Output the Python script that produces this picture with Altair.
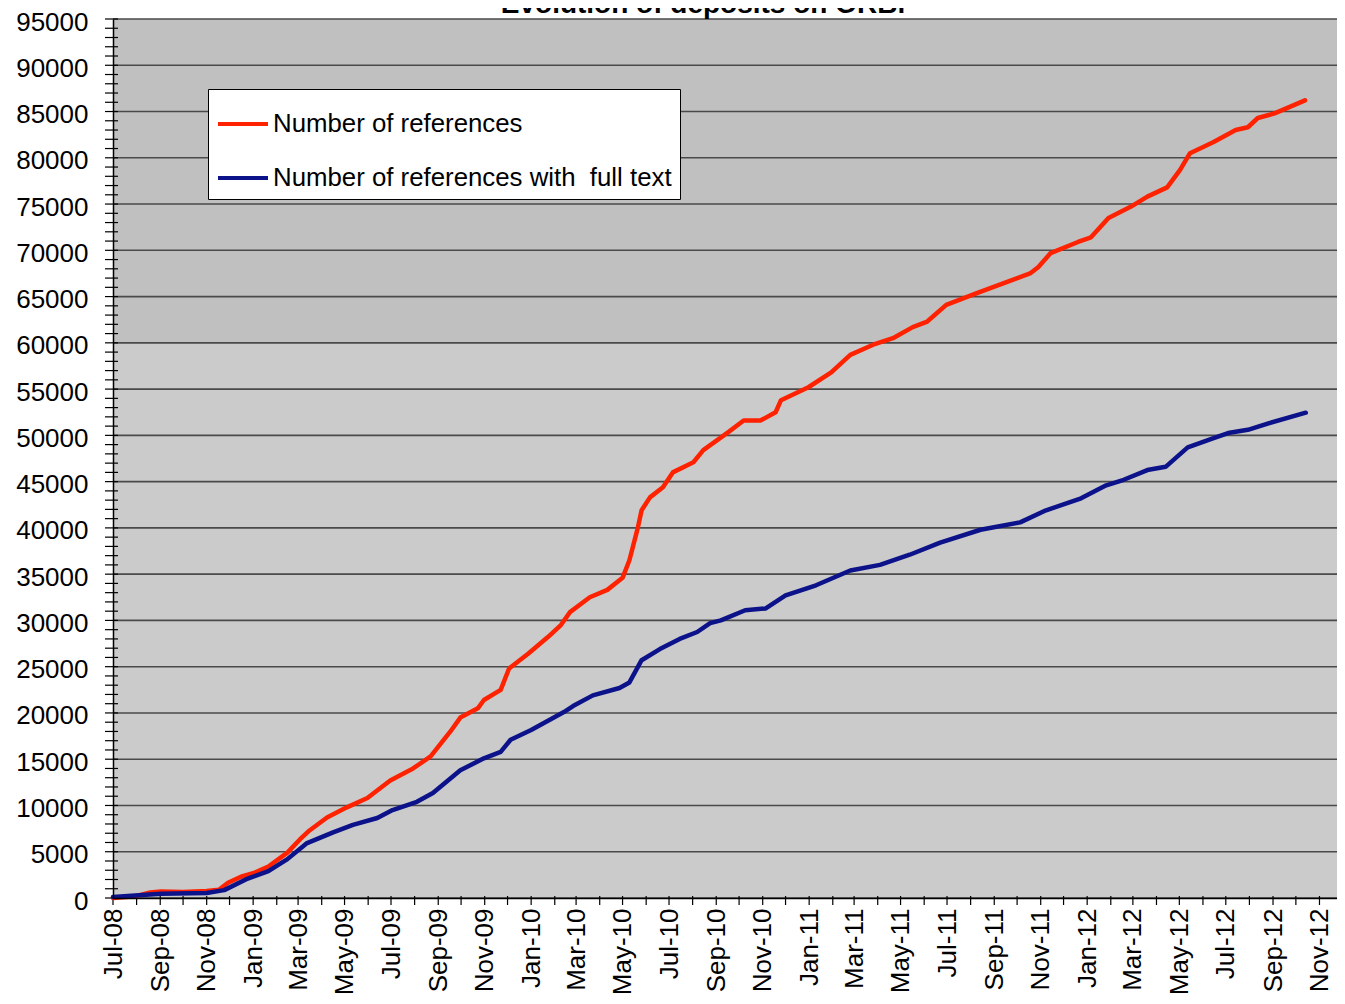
import altair as alt
import pandas as pd

TITLE = "Evolution of deposits on ORBi"
SERIES = ["Number of references", "Number of references with\u00a0 full text"]
COLORS = ["#ff2200", "#0c128a"]

# Number of references (red)
ref_dates = [
    "2008-07-01", "2008-07-31", "2008-08-19", "2008-09-02", "2008-10-01", "2008-11-01",
    "2008-11-17", "2008-11-29", "2008-12-16", "2009-01-02", "2009-01-21", "2009-02-15",
    "2009-03-03", "2009-03-16", "2009-04-08", "2009-05-04", "2009-05-31", "2009-06-30",
    "2009-07-30", "2009-08-22", "2009-09-17", "2009-09-30", "2009-10-23", "2009-10-31",
    "2009-11-22", "2009-12-03", "2009-12-28", "2010-01-23", "2010-02-09", "2010-02-21",
    "2010-03-19", "2010-04-11", "2010-05-01", "2010-05-10", "2010-05-21", "2010-05-26",
    "2010-06-06", "2010-06-23", "2010-07-06", "2010-08-02", "2010-08-15", "2010-09-16",
    "2010-10-07", "2010-10-29", "2010-11-18", "2010-11-25", "2010-12-31", "2011-01-30",
    "2011-02-24", "2011-03-26", "2011-04-21", "2011-05-17", "2011-06-05", "2011-06-30",
    "2011-08-10", "2011-09-18", "2011-10-18", "2011-10-29", "2011-11-14", "2011-12-20",
    "2012-01-06", "2012-01-29", "2012-02-27", "2012-03-20", "2012-04-15", "2012-05-02",
    "2012-05-15", "2012-06-02", "2012-06-15", "2012-07-14", "2012-07-30", "2012-08-12",
    "2012-09-03", "2012-10-13",
]
ref_values = [
    0, 200, 600, 700, 650, 750,
    900, 1650, 2300, 2700, 3400, 4900,
    6300, 7300, 8700, 9800, 10800, 12700,
    14000, 15300, 18000, 19500, 20500, 21400,
    22500, 24800, 26400, 28200, 29500, 30900,
    32500, 33300, 34600, 36500, 40000, 41900,
    43300, 44400, 46000, 47100, 48400, 50300,
    51600, 51600, 52500, 53800, 55200, 56800,
    58700, 59800, 60500, 61700, 62300, 64100,
    65400, 66600, 67500, 68200, 69700, 70900,
    71400, 73500, 74700, 75800, 76800, 78700,
    80500, 81200, 81700, 83000, 83300, 84300,
    84800, 86200,
]

# Number of references with full text (blue)
ft_dates = [
    "2008-07-01", "2008-09-02", "2008-11-01", "2008-11-24", "2008-12-25", "2009-01-21",
    "2009-02-15", "2009-03-12", "2009-04-16", "2009-05-12", "2009-06-13", "2009-07-03",
    "2009-08-04", "2009-08-25", "2009-09-30", "2009-10-31", "2009-11-22", "2009-12-05",
    "2010-01-01", "2010-02-13", "2010-02-25", "2010-03-23", "2010-04-27", "2010-05-10",
    "2010-05-26", "2010-06-19", "2010-07-15", "2010-08-07", "2010-08-24", "2010-09-07",
    "2010-10-09", "2010-11-05", "2010-12-01", "2011-01-10", "2011-02-24", "2011-04-04",
    "2011-05-13", "2011-06-22", "2011-08-14", "2011-10-05", "2011-11-08", "2011-12-24",
    "2012-01-26", "2012-02-18", "2012-03-20", "2012-04-13", "2012-05-12", "2012-06-15",
    "2012-07-04", "2012-07-30", "2012-08-26", "2012-10-14",
]
ft_values = [
    100, 450, 550, 850, 2100, 2900,
    4200, 5900, 7100, 7900, 8650, 9500,
    10400, 11350, 13800, 15100, 15800, 17100,
    18150, 20100, 20750, 21900, 22700, 23300,
    25700, 26900, 28000, 28750, 29700, 30000,
    31100, 31300, 32700, 33800, 35400, 36000,
    37100, 38400, 39800, 40600, 41900, 43200,
    44600, 45200, 46250, 46600, 48700, 49700,
    50250, 50600, 51300, 52450,
]

y_major = list(range(0, 95001, 5000))
y_minor = list(range(0, 95001, 1000))
x_month_ticks = [d.strftime("%Y-%m-%d") for d in pd.date_range("2008-07-01", "2012-11-01", freq="MS")]
x_label_months = x_month_ticks[::2]
band_lo = [0, 60000]
band_hi = [60000, 95000]
band_fill = ["#cbcbcb", "#c0c0c0"]

W, H = 1224, 879
FONT = "Liberation Sans"

x_scale = alt.Scale(
    type="utc",
    domain=[alt.DateTime(year=2008, month=7, date=1, utc=True),
            alt.DateTime(year=2012, month=11, date=24, utc=True)],
)
y_scale = alt.Scale(domain=[0, 95000], nice=False, zero=True)

label_values = [
    alt.DateTime(year=int(s[:4]), month=int(s[5:7]), date=1, utc=True) for s in x_label_months
]

x_axis = alt.Axis(values=label_values, labelExpr="utcFormat(datum.value, '%b-%y')", labelAngle=270,
                  labelFontSize=26, labelFont=FONT, labelColor="black", labelPadding=10,
                  ticks=False, grid=False, domainColor="black", domainWidth=1.5,
                  labelOverlap=False, zindex=1)
y_axis = alt.Axis(values=y_major, format="d", labelFontSize=26, labelFont=FONT,
                  labelColor="black", labelPadding=25, labelOffset=3, ticks=False, grid=False,
                  domainColor="black", domainWidth=1.5, labelOverlap=False, zindex=1)

lines_df = pd.DataFrame({
    "date": ref_dates + ft_dates,
    "value": ref_values + ft_values,
    "series": [SERIES[0]] * len(ref_dates) + [SERIES[1]] * len(ft_dates),
})

bands = alt.Chart(pd.DataFrame({"lo": band_lo, "hi": band_hi, "fill": band_fill})).mark_rect().encode(
    y=alt.Y("lo:Q", scale=y_scale, axis=y_axis, title=None),
    y2="hi:Q",
    x=alt.value(0),
    x2=alt.value(W),
    fill=alt.Fill("fill:N", scale=None),
)

grid = alt.Chart(pd.DataFrame({"v": y_major})).mark_rule(color="#4a4a4a", strokeWidth=1.6).encode(
    y=alt.Y("v:Q", scale=y_scale, axis=y_axis, title=None),
    x=alt.value(0),
    x2=alt.value(W),
)

yticks = alt.Chart(pd.DataFrame({"v": y_minor})).mark_rule(color="black", strokeWidth=1.2).encode(
    y=alt.Y("v:Q", scale=y_scale, axis=y_axis, title=None),
    x=alt.value(-8),
    x2=alt.value(5),
)

xticks = alt.Chart(pd.DataFrame({"d": x_month_ticks})).mark_rule(color="black", strokeWidth=1.2).encode(
    x=alt.X("d:T", scale=x_scale, axis=x_axis, title=None),
    y=alt.value(H - 2),
    y2=alt.value(H + 7),
)

lines = alt.Chart(lines_df).mark_line(strokeWidth=4.5, strokeJoin="round", strokeCap="round").encode(
    x=alt.X("date:T", scale=x_scale, axis=x_axis, title=None),
    y=alt.Y("value:Q", scale=y_scale, axis=y_axis, title=None),
    color=alt.Color("series:N", title=None,
                    scale=alt.Scale(domain=SERIES, range=COLORS),
                    legend=alt.Legend(orient="none", legendX=95, legendY=70, direction="vertical",
                                      fillColor="white", strokeColor="black", padding=8,
                                      symbolType="stroke", symbolSize=2500, symbolStrokeWidth=4,
                                      labelFontSize=25.8, labelFont=FONT, labelColor="black",
                                      labelOffset=3, labelLimit=600, rowPadding=14)),
)

title = alt.Chart(pd.DataFrame({"t": [TITLE]})).mark_text(
    font=FONT, fontSize=28, fontWeight="bold", align="center", baseline="alphabetic", color="black"
).encode(text="t:N", x=alt.value(590), y=alt.value(-6))

chart = alt.layer(bands, grid, yticks, xticks, lines, title).properties(
    width=W, height=H,
    padding={"left": 105, "top": 11, "right": 0, "bottom": 96},
    autosize=alt.AutoSizeParams(type="none"),
    background="white",
).configure_view(strokeWidth=0)

chart.save("out.html", embed_options={"renderer": "svg", "actions": False})
